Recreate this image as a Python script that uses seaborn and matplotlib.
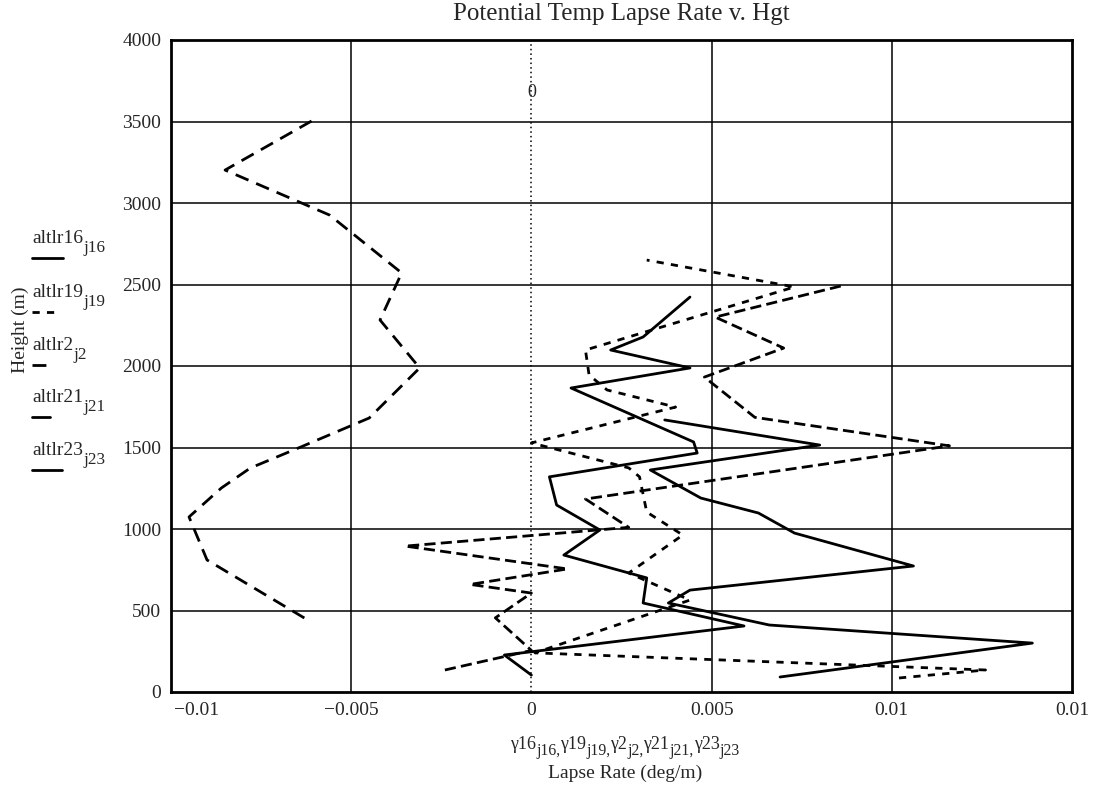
import numpy as np
import pandas as pd
import seaborn as sns
import matplotlib.pyplot as plt
from matplotlib.lines import Line2D

# --- data (lapse rate in deg/m, height in m) ---
lr16 = [0.0069, 0.0139, 0.0066, 0.0038, 0.0044, 0.0106, 0.0073, 0.0063, 0.0047, 0.0033, 0.0080, 0.0037]
alt16 = [92, 300, 411, 546, 625, 773, 975, 1098, 1190, 1362, 1515, 1669]

lr19 = [0.0102, 0.0126, 0.0001, 0.0044, 0.0027, 0.0042, 0.0032, 0.0030, 0.0027, 0.0000,
        0.0040, 0.0021, 0.0016, 0.0015, 0.0073, 0.0032]
alt19 = [86, 135, 240, 564, 730, 963, 1104, 1320, 1375, 1528, 1748, 1853, 1945, 2098, 2485, 2650]

lr2 = [-0.0063, -0.0090, -0.0095, -0.0086, -0.0078, -0.0064, -0.0045, -0.0031, -0.0042,
       -0.0036, -0.0056, -0.0085, -0.0061]
alt2 = [454, 810, 1074, 1252, 1374, 1503, 1681, 1988, 2282, 2571, 2926, 3202, 3503]

lr21 = [-0.0024, 0.0000, -0.0010, 0.0000, -0.0017, 0.0010, -0.0035, 0.0027, 0.0015, 0.0116,
        0.0062, 0.0048, 0.0070, 0.0051, 0.0087]
alt21 = [135, 255, 455, 607, 660, 755, 895, 1010, 1184, 1510, 1685, 1932, 2110, 2300, 2497]

lr23 = [0.0000, -0.00075, 0.0059, 0.0031, 0.0032, 0.0009, 0.0019, 0.0007, 0.0005, 0.0046,
        0.0045, 0.0011, 0.0044, 0.0022, 0.0031, 0.0044]
alt23 = [104, 227, 405, 546, 700, 840, 994, 1147, 1320, 1466, 1534, 1865, 1988, 2098, 2178, 2423]

xticks = [-0.01, -0.005, 0, 0.005, 0.01, 0.015]
xticklabels = ["\u22120.01", "\u22120.005", "0", "0.005", "0.01", "0.01"]
yticks = [0, 500, 1000, 1500, 2000, 2500, 3000, 3500, 4000]

# --- style ---
sns.set_style("white")
plt.rcParams['font.family'] = ['Liberation Serif', 'DejaVu Serif']

W, H = 1098, 791
LONG = (0, (5, 3))
SHORT = (0, (2.6, 2.6))
MED = (0, (4, 1.9))
LW = 2.0

series = [
    ("altlr16", "j16", lr16, alt16, "-"),
    ("altlr19", "j19", lr19, alt19, SHORT),
    ("altlr2", "j2", lr2, alt2, LONG),
    ("altlr21", "j21", lr21, alt21, MED),
    ("altlr23", "j23", lr23, alt23, "-"),
]

fig = plt.figure(figsize=(W / 100, H / 100), dpi=100)
ax = fig.add_axes([171 / W, 1 - 692 / H, (1072 - 171) / W, (692 - 40) / H])

for name, sub, lr, alt, ls in series:
    sns.lineplot(x=lr, y=alt, sort=False, estimator=None, color="black",
                 lw=LW, linestyle=ls, ax=ax)

ax.set_xlim(-0.01, 0.015)
ax.set_ylim(0, 4000)

# grid like the original (dotted marker at 0)
for y in yticks[1:-1]:
    ax.axhline(y, color="black", lw=1.1, zorder=0)
for x in [-0.005, 0.005, 0.01]:
    ax.axvline(x, color="black", lw=1.1, zorder=0)
ax.axvline(0, color="black", lw=1.1, ls=(0, (1, 2)), zorder=0)
ax.text(0, 3680, "0", ha="center", va="center", fontsize=13)

ax.set_xticks(xticks)
ax.set_xticklabels([""] + xticklabels[1:], fontsize=14)
# the left end label sits just inside the frame, as in the original
ax.annotate(xticklabels[0], xy=(xticks[0], 0), xycoords="data", xytext=(2, -7),
            textcoords="offset points", ha="left", va="top", fontsize=14)
ax.set_yticks(yticks)
ax.set_yticklabels([str(v) for v in yticks], fontsize=14)
ax.tick_params(length=0, pad=7)
for sp in ax.spines.values():
    sp.set_linewidth(2)
    sp.set_color("black")
ax.set_xlabel("")
ax.set_ylabel("")

renderer = fig.canvas.get_renderer()


def rich_text(x_px, base_px, parts, size, drop, center=False):
    # write text with Mathcad-like large subscripts, piece by piece
    arts = []
    cx = x_px
    for s, is_sub in parts:
        fs = size * 0.88 if is_sub else size
        yy = base_px + (drop if is_sub else 0)
        t = fig.text(cx / W, 1 - yy / H, s, fontsize=fs, va="baseline", ha="left")
        cx = t.get_window_extent(renderer).x1
        arts.append(t)
    if center:
        shift = (cx - x_px) / 2
        for t in arts:
            px, py = t.get_position()
            t.set_position((px - shift / W, py))


fig.text(621 / W, 1 - 14 / H, "Potential Temp Lapse Rate v. Hgt",
         ha="center", va="center", fontsize=18)
fig.text(20 / W, 1 - 330 / H, "Height (m)", rotation=90,
         ha="center", va="center", fontsize=14)

xlab = []
for i, (name, sub, lr, alt, ls) in enumerate(series):
    xlab.append(("\u03b3" + name.replace("altlr", ""), False))
    xlab.append((sub + ("," if i < len(series) - 1 else ""), True))
rich_text(625, 749, xlab, 13, 6, center=True)
fig.text(625 / W, 1 - 773 / H, "Lapse Rate (deg/m)",
         ha="center", va="center", fontsize=14)

# legend stacked at the left like the Mathcad trace labels
leg_base = [243, 297, 350, 402, 455]
line_len = [31, 25, 18, 18, 30]
leg_style = ["-", SHORT, LONG, "-", "-"]
for (name, sub, lr, alt, ls), by, ll, lls in zip(series, leg_base, line_len, leg_style):
    rich_text(32, by, [(name, False), (sub, True)], 14, 9)
    ly = 1 - (by + 15) / H
    fig.add_artist(Line2D([32 / W, (32 + ll) / W], [ly, ly], color="black",
                          lw=LW, linestyle=lls, transform=fig.transFigure))

plt.savefig("out.png", dpi=100)
